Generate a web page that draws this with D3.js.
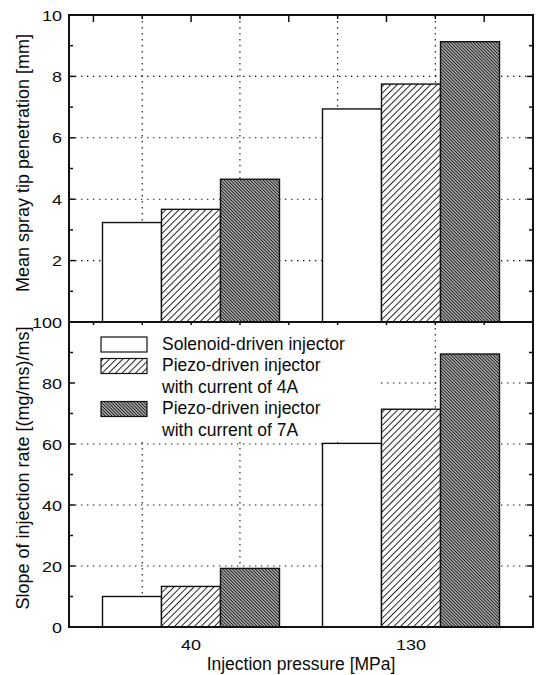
<!DOCTYPE html>
<html>
<head>
<meta charset="utf-8">
<script src="https://cdn.jsdelivr.net/npm/d3@7"></script>
<style>
  body { margin: 0; background: #fff; }
  svg text { font-family: "Liberation Sans", Arial, Helvetica, sans-serif; fill: #0a0a0a; }
</style>
</head>
<body>
<svg id="chart" width="538" height="675"></svg>
<script>
// values
const pressures = ["40", "130"];
const seriesNames = [
  "Solenoid-driven injector",
  "Piezo-driven injector with current of 4A",
  "Piezo-driven injector with current of 7A",
];
const legendLines = [
  ["Solenoid-driven injector"],
  ["Piezo-driven injector", "with current of 4A"],
  ["Piezo-driven injector", "with current of 7A"],
];
const penetration = [[3.24, 3.67, 4.65], [6.94, 7.75, 9.13]];
const slope = [[10.0, 13.3, 19.2], [60.2, 71.4, 89.5]];
const penetrationLabels = [2, 4, 6, 8, 10];
const slopeLabels = [0, 20, 40, 60, 80, 100];

const L = 69, R = 533, TOP = 15, MID = 322, BOT = 627;
const fills = ["#fff", "url(#hatch)", "url(#dense)"];

const svg = d3.select("#chart");
svg.append("rect").attr("width", 538).attr("height", 675).attr("fill", "#fff");

const defs = svg.append("defs");
const hatch = defs.append("pattern").attr("id", "hatch")
  .attr("patternUnits", "userSpaceOnUse").attr("width", 4.7).attr("height", 4.7)
  .attr("patternTransform", "rotate(45)");
hatch.append("rect").attr("width", 4.7).attr("height", 4.7).attr("fill", "#fff");
hatch.append("line").attr("x1", 2.35).attr("x2", 2.35).attr("y1", 0).attr("y2", 4.7)
  .attr("stroke", "#111").attr("stroke-width", 0.9);
const dense = defs.append("pattern").attr("id", "dense")
  .attr("patternUnits", "userSpaceOnUse").attr("width", 2.3).attr("height", 2.3)
  .attr("patternTransform", "rotate(-45)");
dense.append("rect").attr("width", 2.3).attr("height", 2.3).attr("fill", "#c2c2c2");
dense.append("line").attr("x1", 1.15).attr("x2", 1.15).attr("y1", 0).attr("y2", 2.3)
  .attr("stroke", "#141414").attr("stroke-width", 1.05);

const x = d3.scalePoint().domain(pressures).range([L, R]).padding(0.5545);
const xSub = d3.scaleBand().domain(d3.range(seriesNames.length)).range([-88.5, 88.5]);
const xGrid = d3.scaleLinear().domain([-0.5, 9]).range([L, R]);

const panels = [
  { values: penetration, y: d3.scaleLinear().domain([0, 10]).range([MID, TOP]), minor: 1,
    labels: penetrationLabels, title: "Mean spray tip penetration [mm]", titleY: 163 },
  { values: slope, y: d3.scaleLinear().domain([0, 100]).range([BOT, MID]), minor: 10,
    labels: slopeLabels, title: "Slope of injection rate [(mg/ms)/ms]", titleY: 468 },
];

function numText(g, px, py, s, anchor) {
  return g.append("text")
    .attr("transform", `translate(${px},${py}) scale(1.2,1)`)
    .attr("text-anchor", anchor)
    .attr("font-size", 15)
    .text(s);
}

panels.forEach((p, pi) => {
  const g = svg.append("g");
  const [y0, y1] = p.y.range();
  const max = p.y.domain()[1];

  // dotted grid
  const gridVals = p.labels.filter((v) => v > 0 && v < max);
  g.selectAll("line.hgrid").data(gridVals).join("line").attr("class", "hgrid")
    .attr("x1", L).attr("x2", R).attr("y1", (d) => p.y(d)).attr("y2", (d) => p.y(d))
    .attr("stroke", "#111").attr("stroke-width", 1.1).attr("stroke-dasharray", "1.4,4.6");
  g.selectAll("line.vgrid").data([1, 3, 5, 7]).join("line").attr("class", "vgrid")
    .attr("x1", (d) => xGrid(d)).attr("x2", (d) => xGrid(d)).attr("y1", y1).attr("y2", y0)
    .attr("stroke", "#111").attr("stroke-width", 1.1).attr("stroke-dasharray", "1.4,4.6");

  // legend background sits over the grid
  if (pi === 1) {
    g.append("rect").attr("x", L + 1).attr("y", MID + 1).attr("width", 381 - L - 1).attr("height", 441 - MID - 1)
      .attr("fill", "#fff");
  }

  // bars
  pressures.forEach((cat, ci) => {
    g.selectAll(null).data(p.values[ci]).join("rect")
      .attr("x", (d, i) => x(cat) + xSub(i))
      .attr("width", xSub.bandwidth())
      .attr("y", (d) => p.y(d))
      .attr("height", (d) => y0 - p.y(d))
      .attr("fill", (d, i) => fills[i])
      .attr("stroke", "#111").attr("stroke-width", 1.4);
  });

  // ticks on left and right, pointing inward
  const tickVals = d3.range(0, max + p.minor / 2, p.minor);
  const isMajor = (v) => Math.round(v / p.minor) % 2 === 0;
  g.selectAll("line.lt").data(tickVals).join("line").attr("class", "lt")
    .attr("x1", L).attr("x2", (d) => L + (isMajor(d) ? 6 : 4))
    .attr("y1", (d) => p.y(d)).attr("y2", (d) => p.y(d))
    .attr("stroke", "#111").attr("stroke-width", 1.5);
  g.selectAll("line.rt").data(tickVals).join("line").attr("class", "rt")
    .attr("x1", R).attr("x2", (d) => R - (isMajor(d) ? 6 : 4))
    .attr("y1", (d) => p.y(d)).attr("y2", (d) => p.y(d))
    .attr("stroke", "#111").attr("stroke-width", 1.5);

  // ticks along the upper edge of the panel
  g.selectAll("line.tt").data(d3.range(0, 9)).join("line").attr("class", "tt")
    .attr("x1", (d) => xGrid(d)).attr("x2", (d) => xGrid(d))
    .attr("y1", y1).attr("y2", (d) => y1 + (pi === 0 ? (d % 2 === 0 ? 7 : 4) : 3))
    .attr("stroke", "#111").attr("stroke-width", 1.5);

  // frame
  g.append("rect").attr("x", L).attr("y", y1).attr("width", R - L).attr("height", y0 - y1)
    .attr("fill", "none").attr("stroke", "#111").attr("stroke-width", 2);

  // tick labels
  p.labels.forEach((v) => {
    numText(g, 62, p.y(v) + 5.5, v, "end");
  });

  // axis title
  g.append("text")
    .attr("transform", `translate(29,${p.titleY}) rotate(-90)`)
    .attr("text-anchor", "middle").attr("font-size", 18)
    .text(p.title);
});

// category labels + x title
pressures.forEach((cat) => numText(svg, x(cat), 650, cat, "middle"));
svg.append("text").attr("x", (L + R) / 2).attr("y", 670)
  .attr("text-anchor", "middle").attr("font-size", 17.5)
  .text("Injection pressure [MPa]");

// legend
const legend = svg.append("g");
let line = 0;
legendLines.forEach((lines, i) => {
  const top = 337 + line * 21.5;
  legend.append("rect").attr("x", 101).attr("y", top).attr("width", 46).attr("height", 15)
    .attr("fill", fills[i]).attr("stroke", "#111").attr("stroke-width", 1.2);
  lines.forEach((t, k) => {
    legend.append("text").attr("x", 162).attr("y", top + 12.5 + k * 21.5)
      .attr("font-size", 17.5).text(t);
  });
  line += lines.length;
});
</script>
</body>
</html>
